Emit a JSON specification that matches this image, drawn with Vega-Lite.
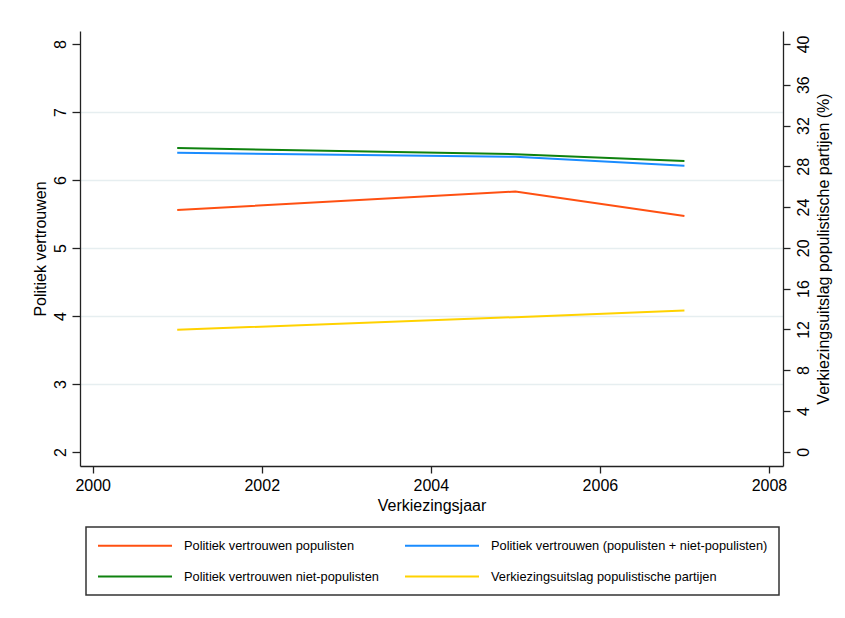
{
  "$schema": "https://vega.github.io/schema/vega-lite/v6.json",
  "width": 703,
  "height": 435,
  "autosize": {"type": "none"},
  "padding": {"left": 80, "top": 31, "right": 62, "bottom": 152},
  "background": "white",
  "config": {
    "view": {"stroke": null},
    "font": "Liberation Sans",
    "axis": {
      "domainColor": "#222",
      "domainWidth": 1.3,
      "tickColor": "#222",
      "tickWidth": 1.3,
      "labelColor": "#000",
      "titleColor": "#000",
      "labelFont": "Liberation Sans",
      "titleFont": "Liberation Sans",
      "labelFontSize": 16,
      "titleFontSize": 16,
      "titleFontWeight": "normal",
      "grid": false
    },
    "legend": {"labelFont": "Liberation Sans"}
  },
  "data": {
    "values": [
      {"jaar": 2001, "reeks": "Politiek vertrouwen populisten", "waarde": 5.56},
      {"jaar": 2005, "reeks": "Politiek vertrouwen populisten", "waarde": 5.83},
      {"jaar": 2007, "reeks": "Politiek vertrouwen populisten", "waarde": 5.47},
      {"jaar": 2001, "reeks": "Politiek vertrouwen (populisten + niet-populisten)", "waarde": 6.40},
      {"jaar": 2005, "reeks": "Politiek vertrouwen (populisten + niet-populisten)", "waarde": 6.34},
      {"jaar": 2007, "reeks": "Politiek vertrouwen (populisten + niet-populisten)", "waarde": 6.21},
      {"jaar": 2001, "reeks": "Politiek vertrouwen niet-populisten", "waarde": 6.47},
      {"jaar": 2005, "reeks": "Politiek vertrouwen niet-populisten", "waarde": 6.38},
      {"jaar": 2007, "reeks": "Politiek vertrouwen niet-populisten", "waarde": 6.28},
      {"jaar": 2001, "reeks": "Verkiezingsuitslag populistische partijen", "waarde": 11.96},
      {"jaar": 2005, "reeks": "Verkiezingsuitslag populistische partijen", "waarde": 13.2},
      {"jaar": 2007, "reeks": "Verkiezingsuitslag populistische partijen", "waarde": 13.85}
    ]
  },
  "encoding": {
    "x": {
      "field": "jaar",
      "type": "quantitative",
      "scale": {"domain": [1999.85, 2008.166], "nice": false, "zero": false},
      "axis": {
        "values": [2000, 2002, 2004, 2006, 2008],
        "format": "d",
        "tickSize": 7,
        "labelPadding": 4,
        "title": "Verkiezingsjaar",
        "titlePadding": 4
      }
    },
    "color": {
      "field": "reeks",
      "type": "nominal",
      "scale": {
        "domain": [
          "Politiek vertrouwen populisten",
          "Politiek vertrouwen (populisten + niet-populisten)",
          "Politiek vertrouwen niet-populisten",
          "Verkiezingsuitslag populistische partijen"
        ],
        "range": ["#ff5012", "#1a8cff", "#0f820f", "#ffd200"]
      },
      "legend": {
        "orient": "none",
        "legendX": 6,
        "legendY": 496,
        "direction": "horizontal",
        "title": null,
        "columns": 2,
        "symbolType": "M-1,0H10.385",
        "symbolSize": 169,
        "symbolStrokeWidth": 2,
        "symbolFillColor": "transparent",
        "labelFontSize": 12.8,
        "labelColor": "#000",
        "labelOffset": 72,
        "labelLimit": 400,
        "columnPadding": 22,
        "rowPadding": 16,
        "padding": 11,
        "strokeColor": "#333",
        "encode": {"legend": {"update": {"strokeWidth": {"value": 1.5}}}}
      }
    }
  },
  "layer": [
    {
      "transform": [{"filter": "datum.reeks != 'Verkiezingsuitslag populistische partijen'"}],
      "mark": {"type": "line", "strokeWidth": 2},
      "encoding": {
        "y": {
          "field": "waarde",
          "type": "quantitative",
          "scale": {"domain": [1.794, 8.191], "nice": false, "zero": false},
          "axis": {
            "orient": "left",
            "values": [2, 3, 4, 5, 6, 7, 8],
            "tickSize": 8,
            "labelAngle": -90,
            "labelAlign": "center",
            "labelBaseline": "bottom",
            "labelPadding": 4,
            "title": "Politiek vertrouwen",
            "titlePadding": 4,
            "grid": true,
            "gridColor": "#e6eef0",
            "gridWidth": 1.5,
            "gridOpacity": {"condition": {"test": "datum.value == 2 || datum.value == 8", "value": 0}, "value": 1}
          }
        }
      }
    },
    {
      "transform": [{"filter": "datum.reeks == 'Verkiezingsuitslag populistische partijen'"}],
      "mark": {"type": "line", "strokeWidth": 2},
      "encoding": {
        "y": {
          "field": "waarde",
          "type": "quantitative",
          "scale": {"domain": [-1.4, 41.27], "nice": false, "zero": false},
          "axis": {
            "orient": "right",
            "values": [0, 4, 8, 12, 16, 20, 24, 28, 32, 36, 40],
            "tickSize": 7,
            "labelAngle": -90,
            "labelAlign": "center",
            "labelBaseline": "top",
            "labelPadding": 5,
            "title": "Verkiezingsuitslag populistische partijen (%)",
            "titleAngle": -90,
            "titleBaseline": "top",
            "titlePadding": 4
          }
        }
      }
    }
  ],
  "resolve": {"scale": {"y": "independent"}}
}
